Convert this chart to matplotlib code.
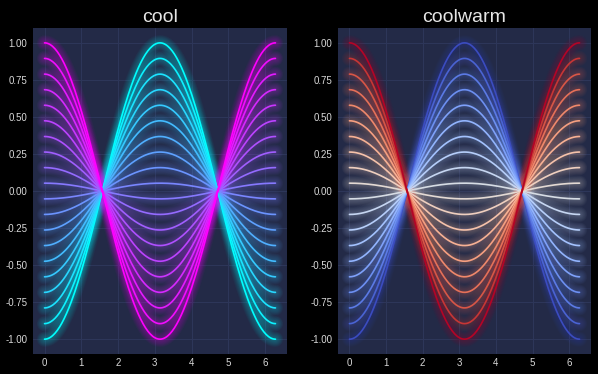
import matplotlib
matplotlib.use("Agg")
import matplotlib.pyplot as plt
import numpy as np

# amplitude of each cosine curve (20 curves, from -1 to 1)
amplitudes = [-1.0, -0.895, -0.789, -0.684, -0.579, -0.474, -0.368, -0.263, -0.158, -0.053,
              0.053, 0.158, 0.263, 0.368, 0.474, 0.579, 0.684, 0.789, 0.895, 1.0]
cmaps = ['cool', 'coolwarm']
x = np.linspace(0, 2 * np.pi, 200)

plt.rcParams['font.family'] = ['Liberation Sans', 'DejaVu Sans']

fig = plt.figure(figsize=(5.98, 3.74), dpi=100, facecolor='black')
axes = [fig.add_axes([0.0552, 0.0535, 0.4247, 0.8715]),
        fig.add_axes([0.5652, 0.0535, 0.4231, 0.8715])]

n_glow = 10
for ax, cname in zip(axes, cmaps):
    cmap = plt.get_cmap(cname)
    ax.set_facecolor('#232a47')
    for a in amplitudes:
        c = cmap((a + 1) / 2)
        y = a * np.cos(x)
        ax.plot(x, y, color=c, lw=1.2, zorder=3, solid_capstyle='round')
        # glow
        for n in range(1, n_glow + 1):
            ax.plot(x, y, color=c, lw=1.2 + 1.0 * n, alpha=0.3 / n_glow,
                    zorder=2, solid_capstyle='round')
    ax.set_title(cname, color='#e6e6e6', fontsize=14, pad=4)
    ax.grid(True, color='#2d3659', lw=0.8)
    ax.set_axisbelow(True)
    for s in ax.spines.values():
        s.set_visible(False)
    ax.set_yticks([-1.0, -0.75, -0.5, -0.25, 0.0, 0.25, 0.5, 0.75, 1.0])
    ax.set_xticks([0, 1, 2, 3, 4, 5, 6])
    ax.yaxis.set_major_formatter(matplotlib.ticker.FormatStrFormatter('%.2f'))
    ax.tick_params(colors='#d9d9d9', labelsize=7, length=0)
    ax.tick_params(axis='x', pad=3)
    ax.tick_params(axis='y', pad=4)
    ax.set_ylim(-1.1, 1.1)

fig.savefig('out.png', dpi=100, facecolor='black')
